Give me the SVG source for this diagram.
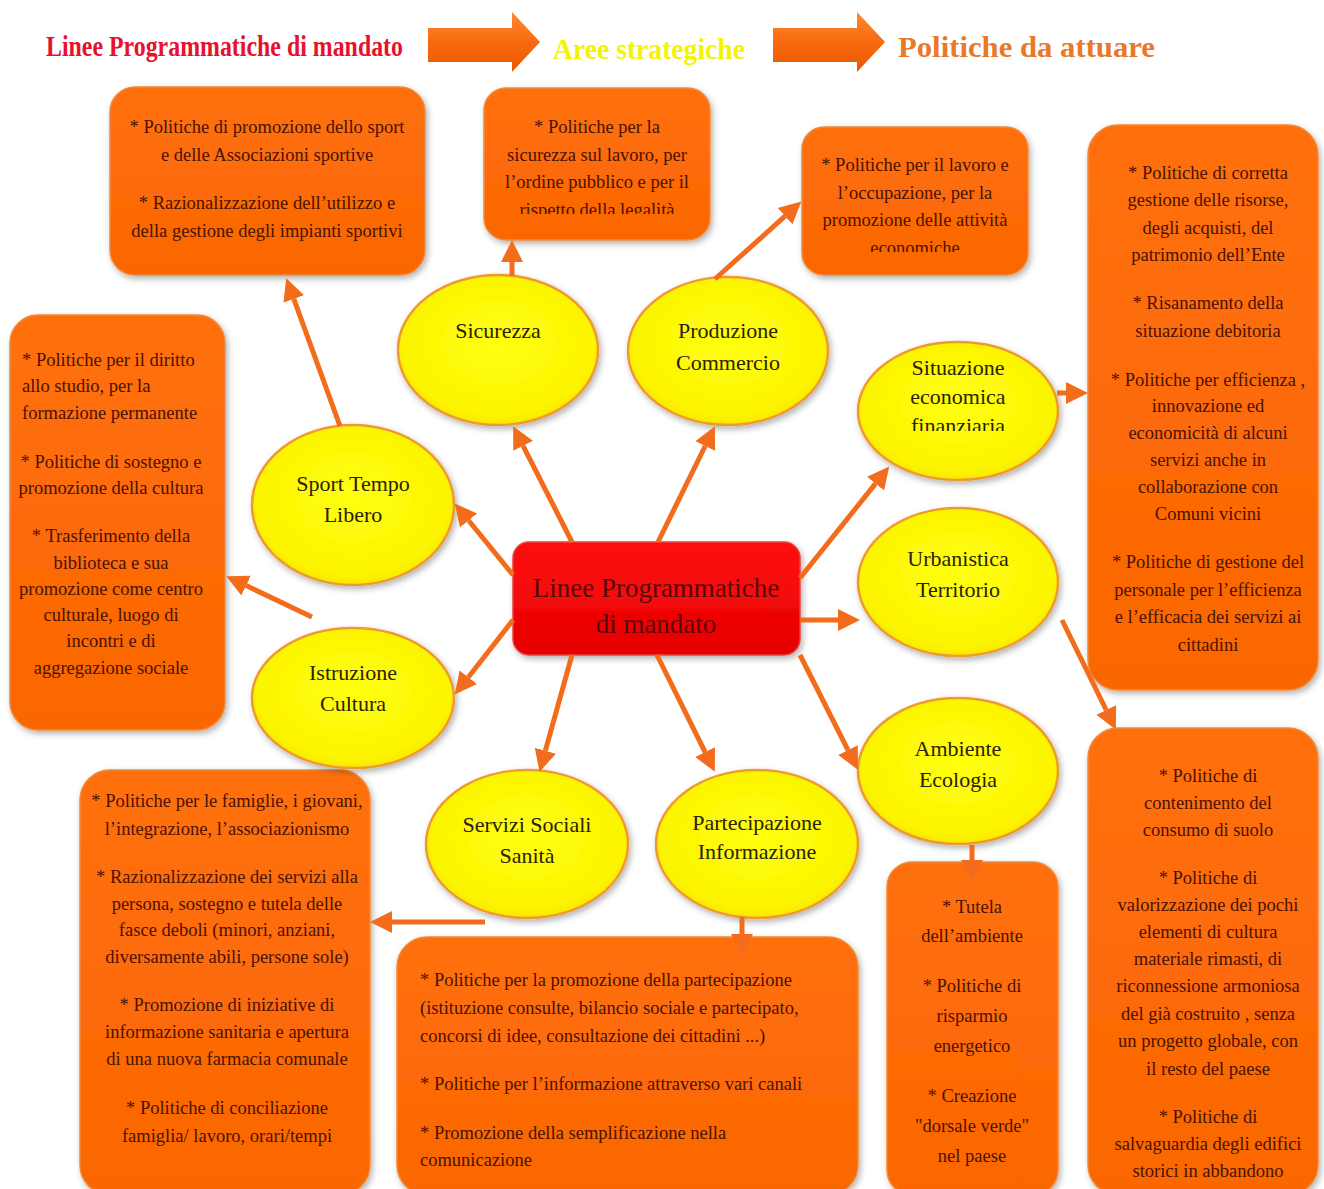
<svg xmlns="http://www.w3.org/2000/svg" width="1324" height="1189" viewBox="0 0 1324 1189">
<defs>
<style>
.box{fill:url(#og);stroke:#f08a3a;stroke-width:1.5;filter:url(#sh)}
.ell{fill:url(#yg);stroke:#ee9a30;stroke-width:2.5;filter:url(#sh)}
.bt{font-family:"Liberation Serif",serif;font-size:18.5px;fill:#4a1200;text-anchor:middle;dominant-baseline:central}
.bl{text-anchor:start}
.et{font-family:"Liberation Serif",serif;font-size:22px;fill:#2a2200;text-anchor:middle;dominant-baseline:central}
.con line{stroke:#f26c1c;stroke-width:5;marker-end:url(#ah)}
</style>
<linearGradient id="og" x1="0" y1="0" x2="0" y2="1"><stop offset="0" stop-color="#ff7010"/><stop offset="1" stop-color="#fb6600"/></linearGradient>
<radialGradient id="yg" cx="0.5" cy="0.45" r="0.6"><stop offset="0" stop-color="#ffff10"/><stop offset="0.8" stop-color="#fcf400"/><stop offset="1" stop-color="#f6e000"/></radialGradient>
<linearGradient id="rg" x1="0" y1="0" x2="0" y2="1"><stop offset="0" stop-color="#ff1010"/><stop offset="1" stop-color="#e60000"/></linearGradient>
<linearGradient id="ag" x1="0" y1="0" x2="0" y2="1"><stop offset="0" stop-color="#ff8a30"/><stop offset="0.5" stop-color="#f96a10"/><stop offset="1" stop-color="#e85a00"/></linearGradient>
<filter id="sh" x="-10%" y="-10%" width="125%" height="125%"><feDropShadow dx="2" dy="3" stdDeviation="3" flood-color="#000" flood-opacity="0.3"/></filter>
<marker id="ah" viewBox="0 -12 24 24" refX="0" refY="0" markerWidth="24" markerHeight="24" markerUnits="userSpaceOnUse" orient="auto"><path d="M0,-11 L22,0 L0,11 z" fill="#f26c1c"/></marker>
<clipPath id="c1"><rect x="484" y="88" width="226" height="126"/></clipPath>
<clipPath id="c2"><rect x="802" y="127" width="226" height="125"/></clipPath>
<clipPath id="c3"><rect x="858" y="340" width="200" height="91"/></clipPath>
</defs>
<rect width="1324" height="1189" fill="#ffffff"/>

<g id="header">
<text x="46" y="56" font-family="Liberation Serif, serif" font-size="29" font-weight="bold" fill="#e8112d" textLength="357" lengthAdjust="spacingAndGlyphs">Linee Programmatiche di mandato</text>
<path d="M428,28 H512 V12 L540,42 L512,72 V62 H428 Z" fill="url(#ag)"/>
<text x="553" y="59" font-family="Liberation Serif, serif" font-size="29" font-weight="bold" fill="#f4f400" textLength="192" lengthAdjust="spacingAndGlyphs">Aree strategiche</text>
<path d="M773,28 H857 V12 L885,42 L857,72 V62 H773 Z" fill="url(#ag)"/>
<text x="898" y="57" font-family="Liberation Serif, serif" font-size="29" font-weight="bold" fill="#e8782a" textLength="257" lengthAdjust="spacingAndGlyphs">Politiche da attuare</text>
</g>

<g id="box-sport">
<rect class="box" x="110" y="87" width="315" height="188" rx="25"/>
<text class="bt" x="267" y="127">* Politiche di promozione dello sport</text>
<text class="bt" x="267" y="155">e delle Associazioni sportive</text>
<text class="bt" x="267" y="203">* Razionalizzazione dell’utilizzo e</text>
<text class="bt" x="267" y="231">della gestione degli impianti sportivi</text>
</g>

<g id="box-sicurezza">
<rect class="box" x="484" y="88" width="226" height="152" rx="22"/>
<g clip-path="url(#c1)">
<text class="bt" x="597" y="127">* Politiche per la</text>
<text class="bt" x="597" y="155">sicurezza sul lavoro, per</text>
<text class="bt" x="597" y="182">l’ordine pubblico e per il</text>
<text class="bt" x="597" y="210">rispetto della legalità</text>
</g>
</g>

<g id="box-produzione">
<rect class="box" x="802" y="127" width="226" height="148" rx="22"/>
<g clip-path="url(#c2)">
<text class="bt" x="915" y="165">* Politiche per il lavoro e</text>
<text class="bt" x="915" y="193">l’occupazione, per la</text>
<text class="bt" x="915" y="220">promozione delle attività</text>
<text class="bt" x="915" y="248">economiche</text>
</g>
</g>

<g id="box-situazione">
<rect class="box" x="1088" y="125" width="230" height="565" rx="30"/>
<text class="bt" x="1208" y="173">* Politiche di corretta</text>
<text class="bt" x="1208" y="200">gestione delle risorse,</text>
<text class="bt" x="1208" y="228">degli acquisti, del</text>
<text class="bt" x="1208" y="255">patrimonio dell’Ente</text>
<text class="bt" x="1208" y="303">* Risanamento della</text>
<text class="bt" x="1208" y="331">situazione debitoria</text>
<text class="bt" x="1208" y="380">* Politiche per efficienza ,</text>
<text class="bt" x="1208" y="406">innovazione ed</text>
<text class="bt" x="1208" y="433">economicità di alcuni</text>
<text class="bt" x="1208" y="460">servizi anche in</text>
<text class="bt" x="1208" y="487">collaborazione con</text>
<text class="bt" x="1208" y="514">Comuni vicini</text>
<text class="bt" x="1208" y="562">* Politiche di gestione del</text>
<text class="bt" x="1208" y="590">personale per l’efficienza</text>
<text class="bt" x="1208" y="617">e l’efficacia dei servizi ai</text>
<text class="bt" x="1208" y="645">cittadini</text>
</g>

<g id="box-istruzione">
<rect class="box" x="10" y="315" width="215" height="415" rx="28"/>
<text class="bt bl" x="22" y="360" font-size="18">* Politiche per il diritto</text>
<text class="bt bl" x="22" y="386" font-size="18">allo studio, per la</text>
<text class="bt bl" x="22" y="413" font-size="18">formazione permanente</text>
<text class="bt" x="111" y="462" font-size="18">* Politiche di sostegno e</text>
<text class="bt" x="111" y="488" font-size="18">promozione della cultura</text>
<text class="bt" x="111" y="536" font-size="18">* Trasferimento della</text>
<text class="bt" x="111" y="563" font-size="18">biblioteca e sua</text>
<text class="bt" x="111" y="589" font-size="18">promozione come centro</text>
<text class="bt" x="111" y="615" font-size="18">culturale, luogo di</text>
<text class="bt" x="111" y="641" font-size="18">incontri e di</text>
<text class="bt" x="111" y="668" font-size="18">aggregazione sociale</text>
</g>

<g id="box-servizi">
<rect class="box" x="80" y="770" width="290" height="425" rx="30"/>
<text class="bt" x="227" y="801">* Politiche per le famiglie, i giovani,</text>
<text class="bt" x="227" y="829">l’integrazione, l’associazionismo</text>
<text class="bt" x="227" y="877">* Razionalizzazione dei servizi alla</text>
<text class="bt" x="227" y="904">persona, sostegno e tutela delle</text>
<text class="bt" x="227" y="930">fasce deboli (minori, anziani,</text>
<text class="bt" x="227" y="957">diversamente abili, persone sole)</text>
<text class="bt" x="227" y="1005">* Promozione di iniziative di</text>
<text class="bt" x="227" y="1032">informazione sanitaria e apertura</text>
<text class="bt" x="227" y="1059">di una nuova farmacia comunale</text>
<text class="bt" x="227" y="1108">* Politiche di conciliazione</text>
<text class="bt" x="227" y="1136">famiglia/ lavoro, orari/tempi</text>
</g>

<g id="box-partecipazione">
<rect class="box" x="397" y="937" width="461" height="258" rx="30"/>
<text class="bt bl" x="420" y="980">* Politiche per la promozione della partecipazione</text>
<text class="bt bl" x="420" y="1008">(istituzione consulte, bilancio sociale e partecipato,</text>
<text class="bt bl" x="420" y="1036">concorsi di idee, consultazione dei cittadini ...)</text>
<text class="bt bl" x="420" y="1084">* Politiche per l’informazione attraverso vari canali</text>
<text class="bt bl" x="420" y="1133">* Promozione della semplificazione nella</text>
<text class="bt bl" x="420" y="1160">comunicazione</text>
</g>

<g id="box-ambiente">
<rect class="box" x="887" y="862" width="171" height="333" rx="25"/>
<text class="bt" x="972" y="907" font-size="21">* Tutela</text>
<text class="bt" x="972" y="936" font-size="21">dell’ambiente</text>
<text class="bt" x="972" y="986" font-size="21">* Politiche di</text>
<text class="bt" x="972" y="1016" font-size="21">risparmio</text>
<text class="bt" x="972" y="1046" font-size="21">energetico</text>
<text class="bt" x="972" y="1096" font-size="21">* Creazione</text>
<text class="bt" x="972" y="1126" font-size="21">"dorsale verde"</text>
<text class="bt" x="972" y="1156" font-size="21">nel paese</text>
</g>

<g id="box-urbanistica">
<rect class="box" x="1088" y="728" width="230" height="467" rx="30"/>
<text class="bt" x="1208" y="776">* Politiche di</text>
<text class="bt" x="1208" y="803">contenimento del</text>
<text class="bt" x="1208" y="830">consumo di suolo</text>
<text class="bt" x="1208" y="878">* Politiche di</text>
<text class="bt" x="1208" y="905">valorizzazione dei pochi</text>
<text class="bt" x="1208" y="932">elementi di cultura</text>
<text class="bt" x="1208" y="959">materiale rimasti, di</text>
<text class="bt" x="1208" y="986">riconnessione armoniosa</text>
<text class="bt" x="1208" y="1014">del già costruito , senza</text>
<text class="bt" x="1208" y="1041">un progetto globale, con</text>
<text class="bt" x="1208" y="1069">il resto del paese</text>
<text class="bt" x="1208" y="1117">* Politiche di</text>
<text class="bt" x="1208" y="1144">salvaguardia degli edifici</text>
<text class="bt" x="1208" y="1171">storici in abbandono</text>
</g>

<g id="center">
<rect x="513" y="542" width="287" height="113" rx="16" fill="url(#rg)" stroke="#e84040" stroke-width="1.5" filter="url(#sh)"/>
<text x="656" y="588" font-family="Liberation Serif, serif" font-size="27" fill="#5a0606" text-anchor="middle" dominant-baseline="central">Linee Programmatiche</text>
<text x="656" y="624" font-family="Liberation Serif, serif" font-size="27" fill="#5a0606" text-anchor="middle" dominant-baseline="central">di mandato</text>
</g>

<g id="n-sicurezza">
<ellipse class="ell" cx="498" cy="350" rx="100" ry="75"/>
<text class="et" x="498" y="330">Sicurezza</text>
</g>
<g id="n-produzione">
<ellipse class="ell" cx="728" cy="351" rx="100" ry="74"/>
<text class="et" x="728" y="330">Produzione</text>
<text class="et" x="728" y="362">Commercio</text>
</g>
<g id="n-situazione">
<ellipse class="ell" cx="958" cy="411" rx="100" ry="69"/>
<g clip-path="url(#c3)">
<text class="et" x="958" y="367" font-size="20">Situazione</text>
<text class="et" x="958" y="396" font-size="20">economica</text>
<text class="et" x="958" y="425" font-size="20">finanziaria</text>
</g>
</g>
<g id="n-sport">
<ellipse class="ell" cx="353" cy="505" rx="101" ry="80"/>
<text class="et" x="353" y="483">Sport Tempo</text>
<text class="et" x="353" y="514">Libero</text>
</g>
<g id="n-urbanistica">
<ellipse class="ell" cx="958" cy="582" rx="100" ry="74"/>
<text class="et" x="958" y="558">Urbanistica</text>
<text class="et" x="958" y="589">Territorio</text>
</g>
<g id="n-istruzione">
<ellipse class="ell" cx="353" cy="698" rx="101" ry="70"/>
<text class="et" x="353" y="672">Istruzione</text>
<text class="et" x="353" y="703">Cultura</text>
</g>
<g id="n-ambiente">
<ellipse class="ell" cx="958" cy="771" rx="100" ry="73"/>
<text class="et" x="958" y="748">Ambiente</text>
<text class="et" x="958" y="779">Ecologia</text>
</g>
<g id="n-servizi">
<ellipse class="ell" cx="527" cy="844" rx="101" ry="74"/>
<text class="et" x="527" y="824">Servizi Sociali</text>
<text class="et" x="527" y="855">Sanità</text>
</g>
<g id="n-partecipazione">
<ellipse class="ell" cx="757" cy="844" rx="101" ry="74"/>
<text class="et" x="757" y="822" font-size="20">Partecipazione</text>
<text class="et" x="757" y="851" font-size="20">Informazione</text>
</g>

<g id="connectors" class="con">
<line x1="340" y1="426" x2="293.8" y2="298.9"/>
<line x1="512" y1="276" x2="512" y2="262"/>
<line x1="715" y1="279" x2="785" y2="216.2"/>
<line x1="1057" y1="393" x2="1066" y2="393"/>
<line x1="312" y1="617" x2="246.1" y2="585.6"/>
<line x1="1062" y1="620" x2="1106.2" y2="710"/>
<line x1="972" y1="845" x2="972" y2="860"/>
<line x1="485" y1="922" x2="392" y2="922"/>
<line x1="742" y1="917" x2="742" y2="934"/>
<line x1="572" y1="542" x2="523.1" y2="445.8"/>
<line x1="658" y1="542" x2="705.2" y2="446"/>
<line x1="513" y1="575" x2="468.6" y2="520.5"/>
<line x1="513" y1="620" x2="468.3" y2="677.2"/>
<line x1="800" y1="578" x2="875.5" y2="483.6"/>
<line x1="800" y1="620" x2="838" y2="620"/>
<line x1="800" y1="655" x2="848" y2="750.1"/>
<line x1="572" y1="655" x2="545.4" y2="750.7"/>
<line x1="657" y1="655" x2="705.1" y2="752.1"/>
</g>
</svg>
